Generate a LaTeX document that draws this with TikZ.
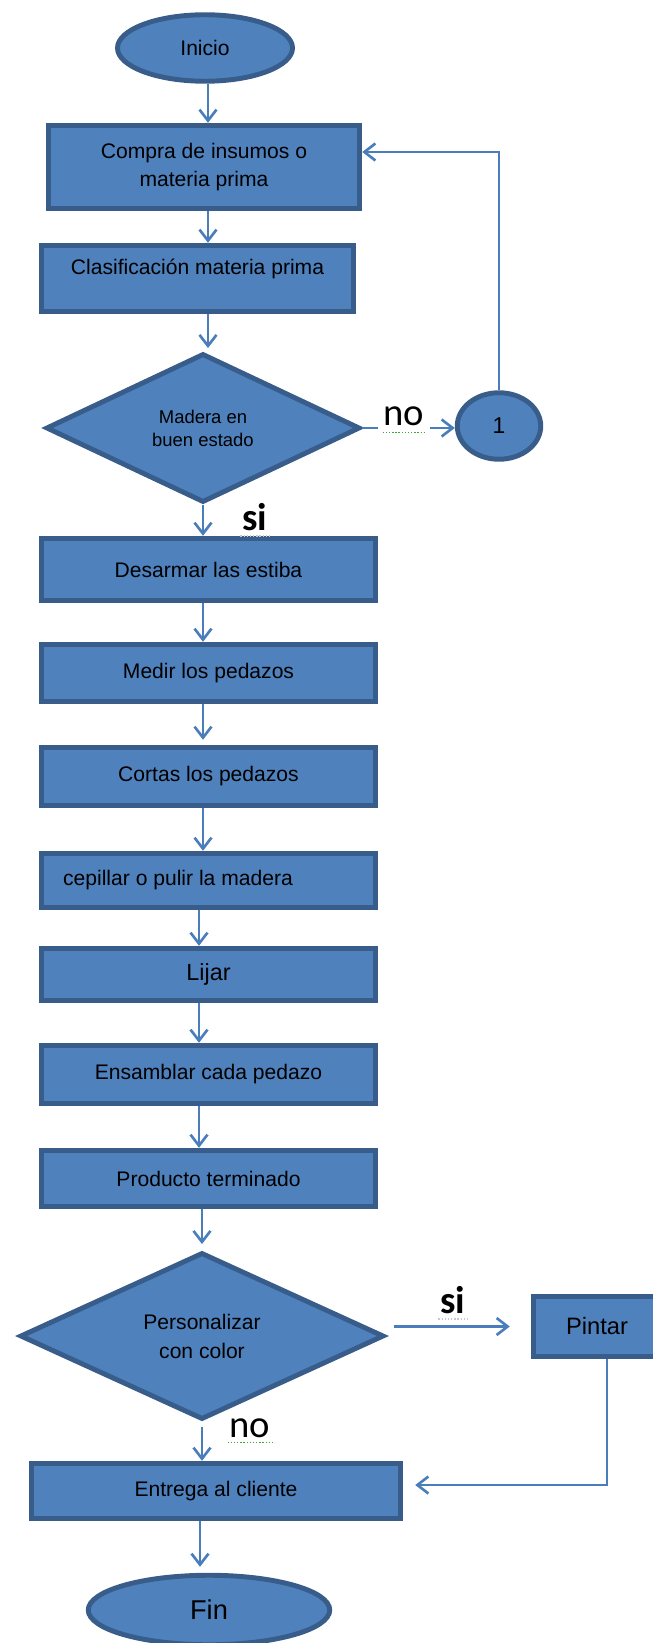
\documentclass[tikz,border=0pt]{standalone}
\usepackage{fontspec}
\setmainfont{Liberation Sans}
\newfontfamily\respfont{Carlito}
\usetikzlibrary{shapes.geometric, arrows.meta}

\definecolor{boxfill}{HTML}{4F81BD}
\definecolor{boxline}{HTML}{385D8A}
\definecolor{flow}{HTML}{4A7EBB}
\definecolor{spellgreen}{HTML}{3DA63D}
\definecolor{spellgray}{HTML}{C8C8C8}

\tikzset{
  proceso/.style={rectangle, draw=boxline, fill=boxfill, line width=2.8pt, inner sep=0pt, align=center, minimum width=6.69cm, font=\fontsize{12}{16}\selectfont},
  terminal/.style={ellipse, draw=boxline, fill=boxfill, line width=2.8pt, inner sep=0pt, font=\fontsize{12}{14}\selectfont},
  decision/.style={diamond, draw=boxline, fill=boxfill, line width=2.8pt, inner sep=0pt, align=center},
  flecha/.style={draw=flow, line width=1.2pt, -{Straight Barb[length=0.22cm, width=0.34cm, line width=1.5pt]}},
  resp/.style={font=\respfont\fontsize{22}{26}\selectfont, inner sep=1pt},
  respsi/.style={resp, font=\respfont\bfseries\fontsize{22}{26}\selectfont},
  subrayado/.style={densely dotted, line width=0.8pt},
}

\begin{document}
\begin{tikzpicture}
    \useasboundingbox (0,0) rectangle (13.06,-32.86);

    % nodos
    \node[terminal, minimum width=3.5cm, minimum height=1.33cm] (inicio) at (4.10,-0.96) {Inicio};
    \node[proceso, minimum width=6.23cm, minimum height=1.67cm] (compra) at (4.08,-3.34) {Compra de insumos o\\materia prima};
    \node[proceso, minimum width=6.25cm, minimum height=1.33cm,
          label={[font=\fontsize{12}{14}\selectfont, yshift=0.2cm]center:Clasificación materia prima}] (clasif) at (3.95,-5.57) {};
    \node[decision, minimum width=6.28cm, minimum height=2.98cm, font=\fontsize{10.5}{13}\selectfont] (madera) at (4.06,-8.56) {Madera en\\buen estado};
    \node[terminal, minimum width=1.67cm, minimum height=1.33cm, font=\fontsize{13}{15}\selectfont] (uno) at (9.98,-8.52) {1};
    \node[proceso, minimum height=1.25cm] (desarmar) at (4.17,-11.39) {Desarmar las estiba};
    \node[proceso, minimum height=1.15cm] (medir) at (4.17,-13.46) {Medir los pedazos};
    \node[proceso, minimum height=1.17cm] (cortas) at (4.17,-15.53) {Cortas los pedazos};
    \node[proceso, minimum height=1.09cm,
          label={[font=\fontsize{12}{14}\selectfont, xshift=-0.61cm]center:cepillar o pulir la madera}] (cepillar) at (4.17,-17.61) {};
    \node[proceso, minimum height=1.05cm, font=\fontsize{13.3}{16}\selectfont] (lijar) at (4.17,-19.49) {Lijar};
    \node[proceso, minimum height=1.17cm] (ensamblar) at (4.17,-21.49) {Ensamblar cada pedazo};
    \node[proceso, minimum height=1.13cm] (producto) at (4.17,-23.57) {Producto terminado};
    \node[decision, minimum width=7.28cm, minimum height=3.34cm, font=\fontsize{12}{16.5}\selectfont] (personalizar) at (4.04,-26.72) {Personalizar\\con color};
    \node[proceso, minimum width=2.55cm, minimum height=1.21cm, font=\fontsize{13.5}{16}\selectfont] (pintar) at (11.94,-26.53) {Pintar};
    \node[proceso, minimum width=7.39cm, minimum height=1.11cm] (entrega) at (4.32,-29.82) {Entrega al cliente};
    \node[terminal, minimum width=4.83cm, minimum height=1.39cm, font=\fontsize{15.5}{18}\selectfont] (fin) at (4.18,-32.20) {Fin};

    % flujo principal
    \draw[flecha] ([xshift=0.06cm]inicio.south) -- ([xshift=0.06cm]inicio.south |- compra.north);
    \draw[flecha] ([xshift=0.08cm]compra.south) -- ([xshift=0.08cm]compra.south |- clasif.north);
    \draw[flecha, shorten >=0.06cm] ([xshift=0.21cm]clasif.south) -- ([xshift=0.21cm]clasif.south |- madera.north);
    \draw[flecha] (madera.south) -- (madera.south |- desarmar.north);
    \draw[flecha] ([xshift=-0.11cm]desarmar.south) -- ([xshift=-0.11cm]medir.north);
    \draw[flecha, shorten >=0.1cm] ([xshift=-0.11cm]medir.south) -- ([xshift=-0.11cm]cortas.north);
    \draw[flecha] ([xshift=-0.11cm]cortas.south) -- ([xshift=-0.11cm]cepillar.north);
    \draw[flecha] ([xshift=-0.19cm]cepillar.south) -- ([xshift=-0.19cm]lijar.north);
    \draw[flecha] ([xshift=-0.19cm]lijar.south) -- ([xshift=-0.19cm]ensamblar.north);
    \draw[flecha] ([xshift=-0.19cm]ensamblar.south) -- ([xshift=-0.19cm]producto.north);
    \draw[flecha, shorten >=0.12cm] (producto.south -| personalizar.north) -- (personalizar.north);
    \draw[flecha, shorten <=0.1cm] (personalizar.south) -- (personalizar.south |- entrega.north);
    \draw[flecha, shorten >=0.12cm] ([xshift=-0.32cm]entrega.south) -- ([xshift=-0.32cm]entrega.south |- fin.north);

    % ramas
    \draw[flecha] (madera.east) -- (madera.east -| uno.west)
        node[resp, fill=white, inner xsep=0.12cm, inner ysep=0.1cm, pos=0.45, yshift=0.24cm] (no1) {no};
    \draw[flecha] (uno.north) |- ([yshift=0.3cm]compra.east);
    \draw[flecha, shorten <=0.16cm, shorten >=0.42cm] (personalizar.east |- pintar.west) -- (pintar.west);
    \draw[flecha, shorten >=0.24cm] ([xshift=0.2cm]pintar.south) |- ([yshift=0.12cm]entrega.east);

    % respuestas
    \node[respsi] (si1) at (5.10,-10.34) {si};
    \node[respsi] (si2) at (9.06,-26.00) {si};
    \node[resp] (no2) at (5.00,-28.56) {no};
    \draw[subrayado, spellgreen] ([xshift=0.12cm, yshift=-0.02cm]no1.south west) -- ([xshift=-0.12cm, yshift=-0.02cm]no1.south east);
    \draw[subrayado, spellgreen] ([yshift=-0.06cm]no2.south west) -- ([yshift=-0.06cm]no2.south east);
    \draw[subrayado, spellgray] ([yshift=-0.06cm]si1.south west) -- ([yshift=-0.06cm]si1.south east);
    \draw[subrayado, spellgray] ([yshift=-0.06cm]si2.south west) -- ([yshift=-0.06cm]si2.south east);
\end{tikzpicture}
\end{document}
